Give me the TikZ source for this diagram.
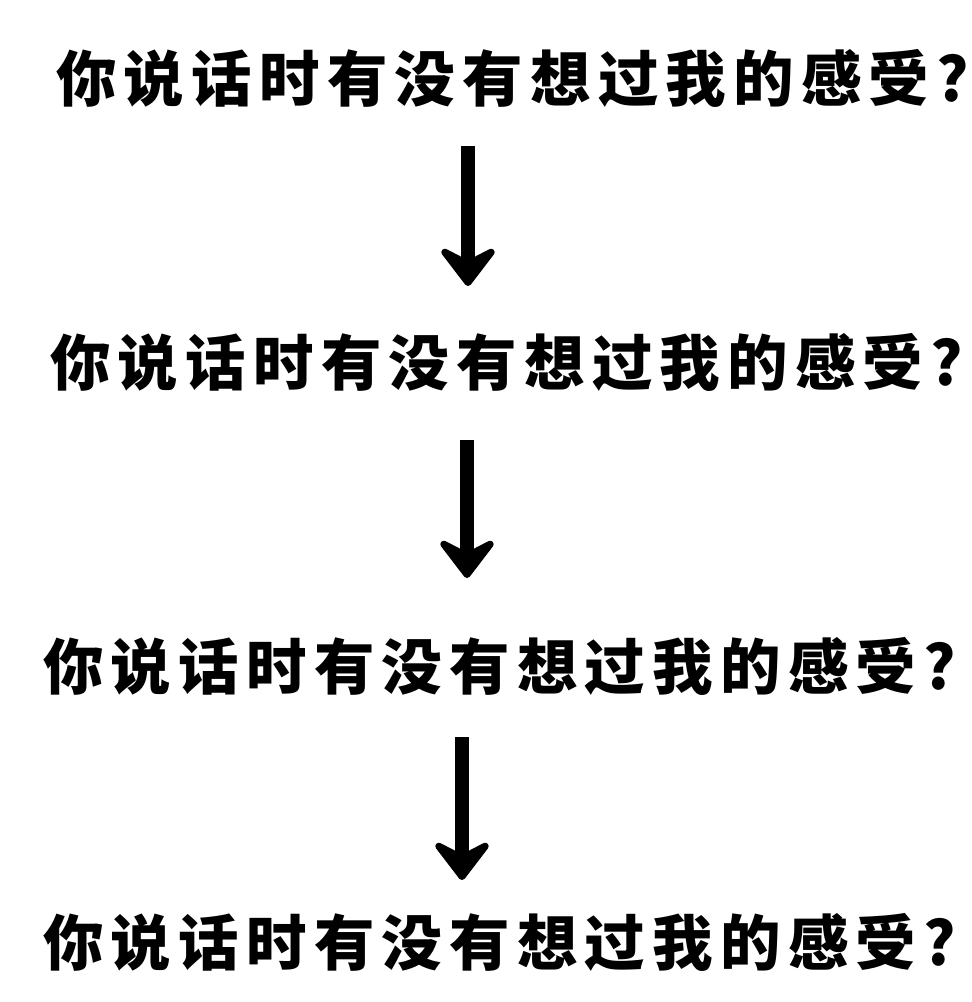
\documentclass[tikz,border=0pt]{standalone}
\usepackage{fontspec}
\newfontfamily\cjk{Noto Sans CJK SC}[LetterSpace=12]
\usetikzlibrary{arrows.meta,positioning}

\begin{document}
\begin{tikzpicture}[
  x=0.025cm, y=-0.025cm,
  every node/.style={font=\cjk\bfseries\fontsize{43}{50}\selectfont},
  qline/.style={anchor=west, inner sep=0pt, text=black},
  arr/.style={line width=10pt, -{Stealth[length=1.15cm, width=1.75cm, inset=0.45cm, round]}}
]
\useasboundingbox[fill=white] (0,0) rectangle (972,1002);
% four repeated lines
\node[qline] (q1) at (56,78)  {你说话时有没有想过我的感受?};
\node[qline] (q2) at (50,362) {你说话时有没有想过我的感受?};
\node[qline] (q3) at (43,666) {你说话时有没有想过我的感受?};
\node[qline] (q4) at (43,942) {你说话时有没有想过我的感受?};
% arrow ends
\coordinate (a1s) at (468,146);
\coordinate (a1e) at (468,286);
\coordinate (a2s) at (467,440);
\coordinate (a2e) at (467,578);
\coordinate (a3s) at (462,737);
\coordinate (a3e) at (462,880);
\draw[arr] (a1s) -- (a1e);
\draw[arr] (a2s) -- (a2e);
\draw[arr] (a3s) -- (a3e);
\end{tikzpicture}
\end{document}
